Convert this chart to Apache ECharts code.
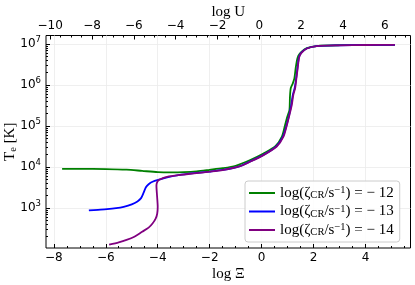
<!DOCTYPE html>
<html><head><meta charset="utf-8">
<script src="https://cdn.jsdelivr.net/npm/echarts@6/dist/echarts.min.js"></script>
<style>html,body{margin:0;padding:0;background:#fff}#c{width:415px;height:285px}</style>
</head><body><div id="c"></div>
<script>
// tick labels
const xiTicks = [-8, -6, -4, -2, 0, 2, 4];
const uTicks = [-10, -8, -6, -4, -2, 0, 2, 4, 6];
const logTTicks = [3, 4, 5, 6, 7];
const legendValues = ['12', '13', '14'];
const seriesNames = ['z12', 'z13', 'z14'];
const seriesColors = ['#008000', '#0000ff', '#800080'];

// series: [log Xi, log10(Te/K)]
const green = [
  [-7.68,3.955],[-7.0,3.955],[-6.0,3.95],[-5.2,3.935],[-4.6,3.905],[-4.0,3.875],[-3.5,3.868],
  [-3.0,3.873],[-2.5,3.892],[-2.0,3.93],[-1.5,3.97],[-1.0,4.03],[-0.44,4.17],[0.07,4.33],
  [0.52,4.50],[0.78,4.74],[0.90,5.02],[0.99,5.23],[1.07,5.39],[1.09,5.71],[1.12,5.92],
  [1.20,6.04],[1.26,6.16],[1.31,6.41],[1.35,6.57],[1.41,6.71],[1.54,6.81],[1.74,6.90],
  [2.12,6.95],[3.02,6.97],[4.0,6.975],[5.13,6.98]
];
const blue = [
  [-6.65,2.94],[-6.3,2.955],[-5.95,2.97],[-5.6,2.995],[-5.31,3.03],[-5.0,3.09],[-4.78,3.16],
  [-4.64,3.24],[-4.55,3.36],[-4.46,3.50],[-4.35,3.58],[-4.2,3.64],[-3.95,3.69],[-3.6,3.75],
  [-3.2,3.80],[-2.6,3.848],[-2.0,3.888],[-1.5,3.928],[-0.83,4.023],[-0.44,4.135],[0.07,4.295],
  [0.56,4.50],[0.82,4.74],[0.96,5.02],[1.06,5.27],[1.14,5.51],[1.20,5.76],[1.27,5.92],
  [1.32,6.12],[1.37,6.37],[1.40,6.53],[1.44,6.69],[1.53,6.79],[1.73,6.89],[2.11,6.95],
  [3.0,6.968],[4.0,6.975],[5.13,6.98]
];
const purple = [
  [-5.87,2.105],[-5.5,2.16],[-5.2,2.22],[-4.9,2.30],[-4.6,2.42],[-4.35,2.52],[-4.2,2.62],
  [-4.08,2.74],[-4.02,2.86],[-4.0,3.03],[-4.02,3.25],[-4.04,3.42],[-4.05,3.55],[-4.02,3.63],
  [-3.96,3.68],[-3.8,3.73],[-3.64,3.76],[-3.2,3.80],[-2.6,3.845],[-2.0,3.885],[-1.5,3.925],
  [-0.83,4.02],[-0.44,4.13],[0.07,4.29],[0.58,4.50],[0.84,4.74],[0.97,5.02],[1.07,5.27],
  [1.16,5.51],[1.22,5.76],[1.29,5.92],[1.33,6.12],[1.38,6.37],[1.41,6.53],[1.45,6.69],
  [1.54,6.79],[1.74,6.89],[2.12,6.95],[3.02,6.968],[4.0,6.975],[5.13,6.98]
];
const seriesData = [green, blue, purple];

const XMIN = -8.3, XMAX = 5.73;
const UMIN = -10.2, UMAX = 7.23;
const YMIN = 2.024, YMAX = 7.207;

function minorLinear(majors, step, lo, hi) {
  const out = [];
  for (let v = Math.ceil(lo / step) * step; v <= hi; v += step) {
    const r = Math.round(v * 100) / 100;
    if (!majors.some(m => Math.abs(m - r) < 1e-6)) out.push(r);
  }
  return out;
}
const xiMinor = minorLinear(xiTicks, 0.5, XMIN, XMAX);
const uMinor = minorLinear(uTicks, 0.5, UMIN, UMAX);
const logTMinor = [];
for (let n = 2; n <= 7; n++) for (let k = 2; k <= 9; k++) {
  const v = Math.log10(k) + n;
  if (v > YMIN && v < YMAX) logTMinor.push(v);
}

const minus = v => (v < 0 ? '\u2212' + (-v) : String(v));
const tickFont = { fontFamily: 'DejaVu Sans', fontSize: 12, color: '#000' };
const serif = 'Liberation Serif';
const black = { color: '#000', width: 1 };
const noLine = { show: false, onZero: false };

const chart = echarts.init(document.getElementById('c'), null, { renderer: 'canvas' });
chart.setOption({
  animation: false,
  backgroundColor: '#fff',
  grid: { left: 46, right: 4.5, top: 35.5, bottom: 37, show: true, borderColor: '#000', borderWidth: 1,
          backgroundColor: 'transparent', containLabel: false, outerBoundsMode: 'none' },
  xAxis: [
    { type: 'value', position: 'bottom', min: XMIN, max: XMAX,
      axisLine: noLine,
      axisTick: { show: true, inside: true, length: 4, customValues: xiTicks, lineStyle: black },
      axisLabel: Object.assign({ customValues: xiTicks, formatter: minus, margin: 4 }, tickFont),
      splitLine: { show: true, lineStyle: { color: '#ebebeb', width: 0.8 } },
      name: 'log \u039E', nameLocation: 'middle', nameGap: 19, nameMoveOverlap: false,
      nameTextStyle: { fontFamily: serif, fontSize: 15, color: '#000', verticalAlign: 'top' } },
    { type: 'value', position: 'top', min: UMIN, max: UMAX,
      axisLine: noLine,
      axisTick: { show: true, inside: true, length: 4, customValues: uTicks, lineStyle: black },
      axisLabel: Object.assign({ customValues: uTicks, formatter: minus, margin: 4 }, tickFont),
      splitLine: { show: false },
      name: 'log U', nameLocation: 'middle', nameGap: 16, nameMoveOverlap: false,
      nameTextStyle: { fontFamily: serif, fontSize: 15, color: '#000', verticalAlign: 'bottom' } },
    { type: 'value', position: 'bottom', min: XMIN, max: XMAX,
      axisLine: noLine, axisLabel: { show: false }, splitLine: { show: false },
      axisTick: { show: true, inside: true, length: 2, customValues: xiMinor, lineStyle: black } },
    { type: 'value', position: 'top', min: UMIN, max: UMAX,
      axisLine: noLine, axisLabel: { show: false }, splitLine: { show: false },
      axisTick: { show: true, inside: true, length: 2, customValues: uMinor, lineStyle: black } }
  ],
  yAxis: [
    { type: 'value', position: 'left', min: YMIN, max: YMAX,
      axisLine: noLine,
      axisTick: { show: true, inside: true, length: 4, customValues: logTTicks, lineStyle: black },
      axisLabel: { customValues: logTTicks, margin: 5, formatter: v => '{b|10}{s|' + Math.round(v) + '}',
        rich: { b: { fontFamily: 'DejaVu Sans', fontSize: 12, color: '#000' },
                s: { fontFamily: 'DejaVu Sans', fontSize: 8.5, color: '#000', padding: [0, 0, 8, 0] } } },
      splitLine: { show: true, lineStyle: { color: '#ebebeb', width: 0.8 } },
      name: '{a|T}{b|e}{a| [K]}', nameLocation: 'middle', nameGap: 27, nameRotate: 90, nameMoveOverlap: false,
      nameTextStyle: { verticalAlign: 'bottom',
        rich: { a: { fontFamily: serif, fontSize: 15, color: '#000' },
                b: { fontFamily: serif, fontSize: 10.5, color: '#000', padding: [6, 0, 0, 0] } } } },
    { type: 'value', position: 'left', min: YMIN, max: YMAX,
      axisLine: noLine, axisLabel: { show: false }, splitLine: { show: false },
      axisTick: { show: true, inside: true, length: 2, customValues: logTMinor, lineStyle: black } }
  ],
  legend: {
    show: true, orient: 'vertical', left: 245, top: 181, itemWidth: 26, itemHeight: 2, itemGap: 2.5,
    icon: 'rect', padding: [4, 6, 4, 4], backgroundColor: 'rgba(255,255,255,0.85)', borderColor: '#cccccc',
    borderWidth: 1, borderRadius: 3,
    data: seriesNames,
    formatter: name => {
      const i = seriesNames.indexOf(name);
      return '{t|log(\u03B6}{sub|CR}{t|/s}{sup|\u22121}{t|) = \u2212 ' + legendValues[i] + '}';
    },
    textStyle: { rich: {
      t: { fontFamily: serif, fontSize: 15, lineHeight: 17, color: '#000' },
      sub: { fontFamily: serif, fontSize: 10.5, lineHeight: 12, color: '#000', padding: [5, 0, 0, 0] },
      sup: { fontFamily: serif, fontSize: 10.5, lineHeight: 12, color: '#000', padding: [0, 0, 5, 0] }
    } }
  },
  series: seriesData.map((d, i) => ({
    name: seriesNames[i], type: 'line', data: d, xAxisIndex: 0, yAxisIndex: 0,
    showSymbol: false, symbol: 'none', smooth: 0.25,
    lineStyle: { color: seriesColors[i], width: 1.8 }, itemStyle: { color: seriesColors[i] }
  }))
});
</script></body></html>
